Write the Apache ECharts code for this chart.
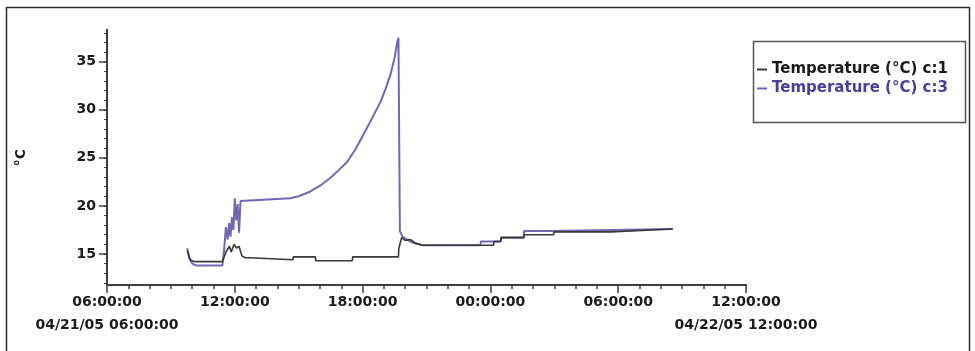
<!DOCTYPE html>
<html>
<head>
<meta charset="utf-8">
<script src="https://cdn.jsdelivr.net/npm/echarts@6/dist/echarts.min.js"></script>
<style>
html,body{margin:0;padding:0;background:#fff;}
#chart{width:975px;height:351px;}
</style>
</head>
<body>
<div id="chart"></div>
<script>
// ---- data (time "MM/DD HH:MM", °C) ----
var seriesNames = ['Temperature (°C) c:1', 'Temperature (°C) c:3'];

var c1Data = [
  ['04/21 09:46', 15.3], ['04/21 09:55', 14.4], ['04/21 10:05', 14.2], ['04/21 11:25', 14.2],
  ['04/21 11:35', 15.2], ['04/21 11:45', 15.8], ['04/21 11:50', 15.2], ['04/21 11:58', 16.0],
  ['04/21 12:05', 15.6], ['04/21 12:12', 15.8], ['04/21 12:20', 14.8], ['04/21 12:30', 14.6],
  ['04/21 12:43', 14.6], ['04/21 12:44', 14.4], ['04/21 14:44', 14.4], ['04/21 14:45', 14.7],
  ['04/21 15:47', 14.7], ['04/21 15:48', 14.3], ['04/21 17:31', 14.3], ['04/21 17:32', 14.7],
  ['04/21 19:41', 14.7], ['04/21 19:42', 15.6], ['04/21 19:47', 15.6], ['04/21 19:50', 16.7],
  ['04/21 20:00', 16.4], ['04/21 20:15', 16.5], ['04/21 20:30', 16.1], ['04/21 20:49', 15.9],
  ['04/22 00:09', 15.9], ['04/22 00:10', 16.3], ['04/22 00:29', 16.3], ['04/22 00:30', 16.7],
  ['04/22 01:34', 16.7], ['04/22 01:35', 17.0], ['04/22 02:58', 17.0], ['04/22 02:59', 17.3],
  ['04/22 05:39', 17.3], ['04/22 05:40', 17.5], ['04/22 08:34', 17.6]
];

var c3Data = [
  ['04/21 09:46', 15.6], ['04/21 09:52', 14.5], ['04/21 10:00', 14.0], ['04/21 10:10', 13.8],
  ['04/21 11:25', 13.8], ['04/21 11:30', 15.5], ['04/21 11:35', 17.8], ['04/21 11:40', 16.5],
  ['04/21 11:44', 18.2], ['04/21 11:48', 16.8], ['04/21 11:52', 18.8], ['04/21 11:56', 17.5],
  ['04/21 12:00', 20.8], ['04/21 12:04', 18.5], ['04/21 12:08', 20.2], ['04/21 12:12', 17.2],
  ['04/21 12:16', 20.5], ['04/21 12:20', 20.7], ['04/21 14:36', 20.8], ['04/21 15:00', 21.0],
  ['04/21 15:33', 21.5], ['04/21 16:00', 22.1], ['04/21 16:29', 22.9], ['04/21 16:55', 23.8],
  ['04/21 17:17', 24.6], ['04/21 17:40', 25.9], ['04/21 18:02', 27.4], ['04/21 18:25', 29.0],
  ['04/21 18:50', 30.8], ['04/21 19:05', 32.2], ['04/21 19:18', 33.6], ['04/21 19:30', 35.4],
  ['04/21 19:38', 37.1], ['04/21 19:41', 37.5], ['04/21 19:45', 17.4], ['04/21 19:52', 16.8],
  ['04/21 20:05', 16.5], ['04/21 20:20', 16.2], ['04/21 20:49', 15.9], ['04/21 23:32', 15.9],
  ['04/21 23:33', 16.3], ['04/22 00:29', 16.3], ['04/22 00:30', 16.7], ['04/22 01:34', 16.7],
  ['04/22 01:35', 17.4], ['04/22 02:58', 17.4], ['04/22 02:59', 17.5], ['04/22 08:34', 17.6]
];

var xRange = ['04/21 06:00', '04/22 12:00'];
var xMajorTicks = ['04/21 06:00', '04/21 12:00', '04/21 18:00', '04/22 00:00', '04/22 06:00', '04/22 12:00'];
var xTickLabels = ['06:00:00\n04/21/05 06:00:00', '12:00:00', '18:00:00', '00:00:00', '06:00:00', '12:00:00\n04/22/05 12:00:00'];
var yRange = [11.77, 38.3];
var yMajorTicks = [15, 20, 25, 30, 35];
var yTickLabels = ['15', '20', '25', '30', '35'];
var yAxisName = '°C';

// ---- helpers: x position = hours elapsed since the first x tick ----
function toHours(s) {
  var p = s.split(' '); var d = p[0].split('/'); var t = p[1].split(':');
  var ms = Date.UTC(2005, +d[0] - 1, +d[1], +t[0], +t[1]);
  var p0 = xRange[0].split(' '); var d0 = p0[0].split('/'); var t0 = p0[1].split(':');
  var ms0 = Date.UTC(2005, +d0[0] - 1, +d0[1], +t0[0], +t0[1]);
  return (ms - ms0) / 3600000;
}
function conv(arr) { return arr.map(function (d) { return [toHours(d[0]), d[1]]; }); }

var xMin = toHours(xRange[0]), xMax = toHours(xRange[1]);
var majorVals = xMajorTicks.map(toHours);
var hourVals = [];
for (var h = xMin; h <= xMax; h += 1) hourVals.push(h);
var yMinor = [];
for (var v = 12; v <= 38; v++) yMinor.push(v);

var FONT = 'DejaVu Sans';
var chart = echarts.init(document.getElementById('chart'), null, {renderer: 'canvas'});

var axisLine = {show: true, lineStyle: {color: '#3d3d3d', width: 2}};

chart.setOption({
  backgroundColor: '#ffffff',
  animation: false,
  grid: {left: 107, right: 229, top: 30, bottom: 66, containLabel: false},
  xAxis: [
    {
      type: 'value', min: xMin, max: xMax, position: 'bottom',
      axisLine: axisLine,
      axisTick: {show: true, customValues: hourVals, length: 4, lineStyle: {color: '#3d3d3d', width: 1.5}},
      axisLabel: {show: false}, splitLine: {show: false}
    },
    {
      type: 'value', min: xMin, max: xMax, position: 'bottom', gridIndex: 0,
      axisLine: axisLine,
      axisTick: {show: true, customValues: majorVals, length: 8, lineStyle: {color: '#3d3d3d', width: 1.5}},
      axisLabel: {
        show: true, customValues: majorVals, margin: 6,
        fontFamily: FONT, fontWeight: 'bold', fontSize: 14, color: '#1a1a1a', lineHeight: 23,
        formatter: function (val) {
          var i = majorVals.indexOf(val);
          return i >= 0 ? xTickLabels[i] : '';
        }
      },
      splitLine: {show: false}
    }
  ],
  yAxis: [
    {
      type: 'value', min: yRange[0], max: yRange[1],
      axisLine: axisLine,
      axisTick: {show: true, customValues: yMinor, length: 3, lineStyle: {color: '#3d3d3d', width: 1}},
      axisLabel: {show: false}, splitLine: {show: false}
    },
    {
      type: 'value', min: yRange[0], max: yRange[1], position: 'left', gridIndex: 0,
      axisLine: axisLine,
      name: yAxisName, nameLocation: 'middle', nameGap: 79, nameRotate: 90,
      nameTextStyle: {fontFamily: FONT, fontWeight: 'bold', fontSize: 14, color: '#1a1a1a'},
      axisTick: {show: true, customValues: yMajorTicks, length: 8, lineStyle: {color: '#3d3d3d', width: 1.5}},
      axisLabel: {
        show: true, customValues: yMajorTicks, margin: 11,
        fontFamily: FONT, fontWeight: 'bold', fontSize: 14, color: '#1a1a1a',
        formatter: function (val) {
          var i = yMajorTicks.indexOf(val);
          return i >= 0 ? yTickLabels[i] : '';
        }
      },
      splitLine: {show: false}
    }
  ],
  legend: {
    orient: 'vertical', left: 757, top: 62, padding: 0, itemGap: 4,
    icon: 'rect', itemWidth: 10, itemHeight: 2,
    textStyle: {fontFamily: FONT, fontWeight: 'bold', fontSize: 15},
    data: [
      {name: seriesNames[0], textStyle: {color: '#1a1a1a'}},
      {name: seriesNames[1], textStyle: {color: '#4b3c9e'}}
    ]
  },
  graphic: [
    {type: 'rect', shape: {x: 6.5, y: 7.5, width: 963, height: 360},
     style: {fill: 'none', stroke: '#2e2e2e', lineWidth: 1.5}, silent: true},
    {type: 'rect', shape: {x: 753.5, y: 41.5, width: 212, height: 81},
     style: {fill: 'none', stroke: '#555555', lineWidth: 1.5}, silent: true}
  ],
  series: [
    {
      name: seriesNames[0], type: 'line', xAxisIndex: 0, yAxisIndex: 0,
      data: conv(c1Data), showSymbol: false, z: 3,
      lineStyle: {color: '#3a3838', width: 1.6}, itemStyle: {color: '#3a3838'}
    },
    {
      name: seriesNames[1], type: 'line', xAxisIndex: 0, yAxisIndex: 0,
      data: conv(c3Data), showSymbol: false, z: 2,
      lineStyle: {color: '#7465b5', width: 2}, itemStyle: {color: '#7465b5'}
    }
  ]
});
</script>
</body>
</html>
